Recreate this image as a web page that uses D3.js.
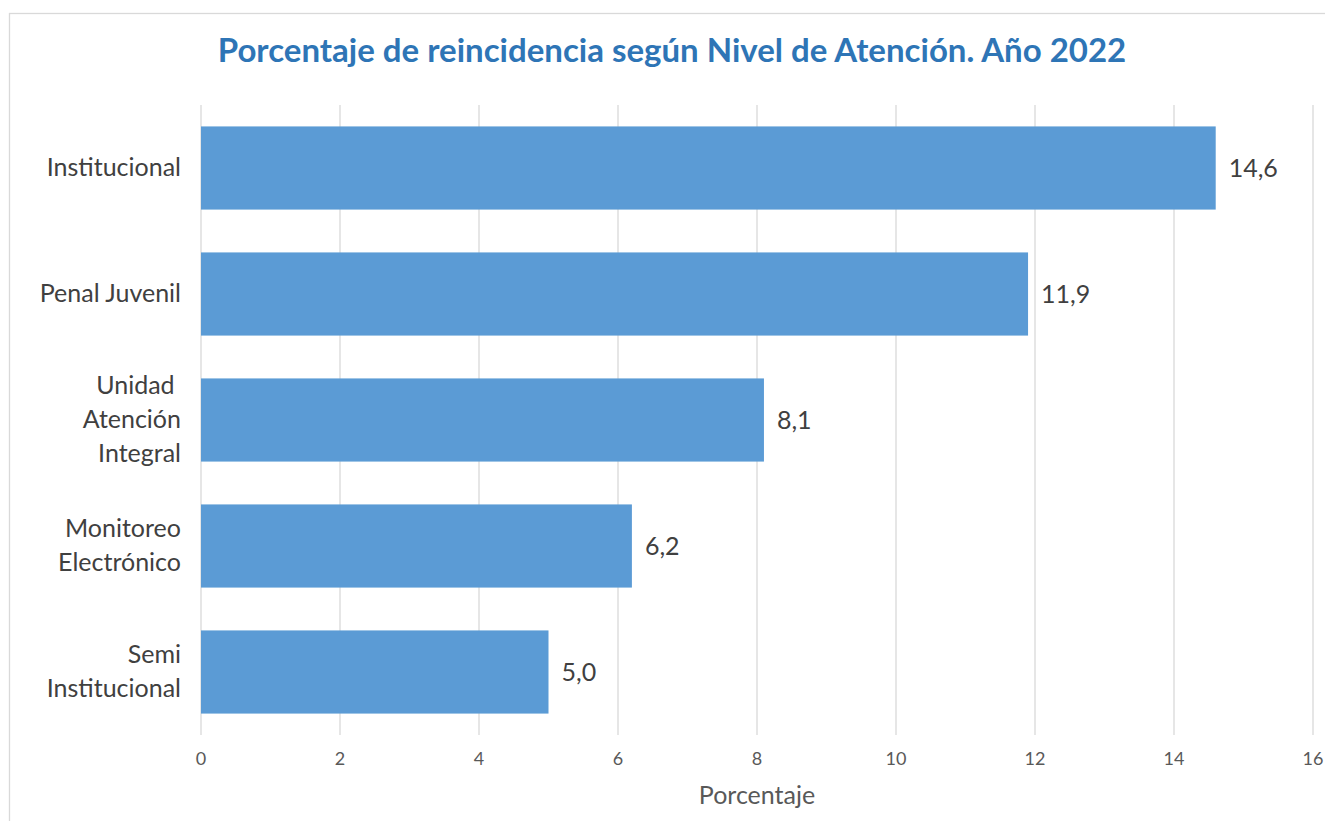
<!DOCTYPE html>
<meta charset="utf-8">
<script src="https://d3js.org/d3.v7.min.js"></script>
<style>
  body { margin:0; background:#fff; }
  text { font-family: Lato, "Open Sans", sans-serif; }
</style>
<div id="chart"></div>
<script>
  // data
  const categories = ["Institucional", "Penal Juvenil", "Unidad Atención Integral", "Monitoreo Electrónico", "Semi Institucional"];
  const labelLines = [["Institucional"], ["Penal Juvenil"], ["Unidad ", "Atención", "Integral"], ["Monitoreo", "Electrónico"], ["Semi", "Institucional"]];
  const values = [14.6, 11.9, 8.1, 6.2, 5.0];
  const xTicks = [0, 2, 4, 6, 8, 10, 12, 14, 16];

  const W = 1325, H = 821;
  const plot = { left: 201, right: 1313, top: 105, bottom: 735 };

  const svg = d3.select("#chart").append("svg")
    .attr("width", W).attr("height", H);

  // chart frame
  svg.append("rect")
    .attr("x", 9.5).attr("y", 13.5)
    .attr("width", 1340).attr("height", 840)
    .attr("fill", "none").attr("stroke", "#d9d9d9").attr("stroke-width", 1.3);

  const x = d3.scaleLinear().domain([0, 16]).range([plot.left, plot.right]);
  const y = d3.scaleBand().domain(categories)
    .range([plot.top, plot.bottom])
    .paddingInner(0.34).paddingOuter(0.17);

  // gridlines
  svg.append("g").selectAll("line")
    .data(xTicks).join("line")
    .attr("x1", d => x(d)).attr("x2", d => x(d))
    .attr("y1", plot.top).attr("y2", plot.bottom)
    .attr("stroke", "#d9d9d9").attr("stroke-width", 1.3);

  // bars
  svg.append("g").selectAll("rect")
    .data(values).join("rect")
    .attr("x", x(0))
    .attr("y", (d, i) => y(categories[i]))
    .attr("width", d => x(d) - x(0))
    .attr("height", y.bandwidth())
    .attr("fill", "#5b9bd5");

  // value labels
  svg.append("g").selectAll("text")
    .data(values).join("text")
    .attr("x", d => x(d) + 13)
    .attr("y", (d, i) => y(categories[i]) + y.bandwidth() / 2)
    .attr("dy", "0.35em")
    .attr("fill", "#404040")
    .style("font-size", "25px")
    .text(d => d.toFixed(1).replace(".", ","));

  // category labels
  const cat = svg.append("g").selectAll("text")
    .data(labelLines).join("text")
    .attr("text-anchor", "end")
    .attr("fill", "#404040")
    .style("font-size", "25px")
    .attr("y", (d, i) => y(categories[i]) + y.bandwidth() / 2);
  cat.each(function(lines) {
    const t = d3.select(this);
    lines.forEach((l, j) => {
      t.append("tspan")
        .attr("x", 181)
        .attr("dy", j ? 34 : (-(lines.length - 1) / 2 * 34 + 8))
        .style("white-space", "pre")
        .text(l);
    });
  });

  // x tick labels
  svg.append("g").selectAll("text")
    .data(xTicks).join("text")
    .attr("x", d => x(d))
    .attr("y", 765)
    .attr("text-anchor", "middle")
    .attr("fill", "#595959")
    .style("font-size", "18px")
    .text(d => d);

  // axis title
  svg.append("text")
    .attr("x", (plot.left + plot.right) / 2)
    .attr("y", 804)
    .attr("text-anchor", "middle")
    .attr("fill", "#595959")
    .style("font-size", "25px")
    .text("Porcentaje");

  // title
  svg.append("text")
    .attr("x", 672)
    .attr("y", 62)
    .attr("text-anchor", "middle")
    .attr("fill", "#2e75b6")
    .style("font-size", "33px")
    .style("font-weight", "bold")
    .text("Porcentaje de reincidencia según Nivel de Atención. Año 2022");
</script>
